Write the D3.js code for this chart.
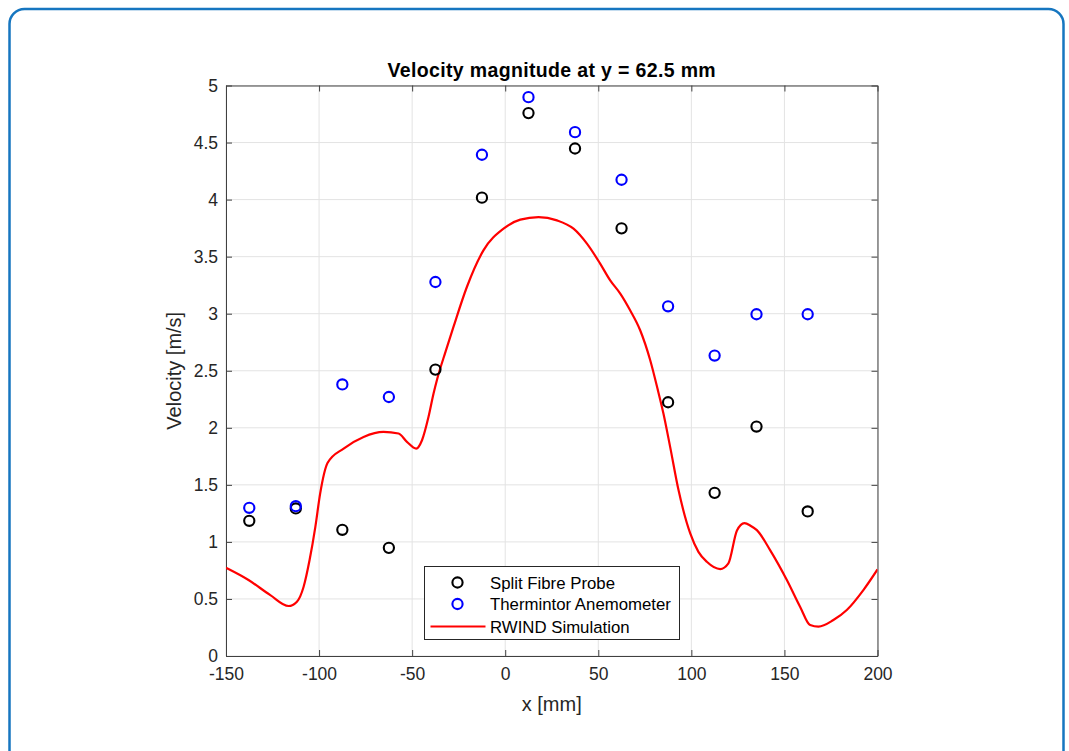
<!DOCTYPE html>
<html>
<head>
<meta charset="utf-8">
<script src="https://cdn.jsdelivr.net/npm/d3@7"></script>
<style>
  body { margin: 0; background: #fff; }
  svg { display: block; font-family: 'Liberation Sans', Arial, sans-serif; }
</style>
</head>
<body>
<div id="viz-container"></div>
<script>
// measurement positions (mm)
let probeX = [-137.5, -112.5, -87.5, -62.5, -37.5, -12.5, 12.5, 37.5, 62.5, 87.5, 112.5, 135, 162.5];
let splitFibre = [1.185, 1.293, 1.106, 0.948, 2.51, 4.017, 4.758, 4.448, 3.748, 2.224, 1.43, 2.011, 1.267];
let thermintor = [1.299, 1.313, 2.38, 2.27, 3.278, 4.393, 4.898, 4.591, 4.174, 3.065, 2.633, 2.995, 2.995];

// simulation curve
let simX = [-150, -137.9, -126.2, -116.4, -111.9, -108.3, -105.1, -102, -99.4, -95.4, -86.8, -76.1, -65.4, -57.3, -52.8, -47.8, -44.7, -41.2, -38.5, -36.5, -32, -27.8, -20.6, -11.7, -0.9, 8.1, 17.9, 27.8, 36.7, 43.9, 51, 56.4, 61.8, 67.1, 72.5, 77.9, 81.8, 85, 88.6, 93.1, 99.4, 103.8, 108.3, 115.5, 119.9, 124.5, 128.5, 132, 135.2, 142.3, 151.3, 158.4, 163.8, 168.3, 176.3, 183.5, 192.4, 200];
let simV = [0.773, 0.666, 0.534, 0.438, 0.476, 0.607, 0.841, 1.132, 1.425, 1.693, 1.818, 1.92, 1.964, 1.95, 1.877, 1.818, 1.891, 2.096, 2.3, 2.43, 2.67, 2.884, 3.234, 3.555, 3.745, 3.824, 3.847, 3.818, 3.745, 3.614, 3.439, 3.292, 3.176, 3.03, 2.855, 2.592, 2.344, 2.125, 1.833, 1.454, 1.074, 0.913, 0.826, 0.762, 0.812, 1.1, 1.165, 1.14, 1.103, 0.928, 0.666, 0.432, 0.271, 0.257, 0.315, 0.403, 0.578, 0.759];

let xTicks = [-150, -100, -50, 0, 50, 100, 150, 200];
let yTicks = [0, 0.5, 1, 1.5, 2, 2.5, 3, 3.5, 4, 4.5, 5];
let legendItems = ['Split Fibre Probe', 'Thermintor Anemometer', 'RWIND Simulation'];

let width = 1069, height = 751;
let plotLeft = 226, plotRight = 877.5, plotTop = 85.5, plotBottom = 656;
let markerR = 5.1;

let viz = d3.select('#viz-container')
  .append('svg')
  .attr('width', width)
  .attr('height', height);

// outer frame
viz.append('rect')
  .attr('x', 9.5).attr('y', 9)
  .attr('width', 1054).attr('height', 780)
  .attr('rx', 15)
  .attr('fill', 'none')
  .attr('stroke', '#1676c0')
  .attr('stroke-width', 2.5);

let xScale = d3.scaleLinear().domain([-150, 200]).range([plotLeft, plotRight]);
let yScale = d3.scaleLinear().domain([0, 5]).range([plotBottom, plotTop]);

// grid
viz.selectAll('.vgrid').data(xTicks).enter()
  .append('line')
  .attr('x1', d => xScale(d)).attr('x2', d => xScale(d))
  .attr('y1', plotTop).attr('y2', plotBottom)
  .attr('stroke', '#e3e3e3').attr('stroke-width', 1);
viz.selectAll('.hgrid').data(yTicks).enter()
  .append('line')
  .attr('y1', d => yScale(d)).attr('y2', d => yScale(d))
  .attr('x1', plotLeft).attr('x2', plotRight)
  .attr('stroke', '#e3e3e3').attr('stroke-width', 1);

// axes (MATLAB style: ticks inward, box on)
let axisColor = '#404040';
let plainFormat = d => String(d);
let xAxisB = d3.axisBottom(xScale).tickValues(xTicks).tickSizeInner(-6).tickSizeOuter(0).tickPadding(12).tickFormat(plainFormat);
let xAxisT = d3.axisTop(xScale).tickValues(xTicks).tickSizeInner(-6).tickSizeOuter(0).tickFormat('');
let yAxisL = d3.axisLeft(yScale).tickValues(yTicks).tickSizeInner(-6).tickSizeOuter(0).tickPadding(8).tickFormat(plainFormat);
let yAxisR = d3.axisRight(yScale).tickValues(yTicks).tickSizeInner(-6).tickSizeOuter(0).tickFormat('');

function styleAxis(g) {
  g.selectAll('path').attr('stroke', axisColor).attr('stroke-width', 1);
  g.selectAll('line').attr('stroke', axisColor).attr('stroke-width', 1);
  g.selectAll('text').attr('fill', '#262626').attr('font-size', 17.5)
    .attr('font-family', "'Liberation Sans', Arial, sans-serif");
}

viz.append('g').attr('transform', 'translate(0,' + plotBottom + ')').call(xAxisB).call(styleAxis);
viz.append('g').attr('transform', 'translate(0,' + plotTop + ')').call(xAxisT).call(styleAxis);
viz.append('g').attr('transform', 'translate(' + plotLeft + ',0)').call(yAxisL).call(styleAxis);
viz.append('g').attr('transform', 'translate(' + plotRight + ',0)').call(yAxisR).call(styleAxis);

// clip for simulation line
viz.append('clipPath').attr('id', 'plotClip')
  .append('rect').attr('x', plotLeft).attr('y', plotTop)
  .attr('width', plotRight - plotLeft).attr('height', plotBottom - plotTop);

let simData = simX.map((x, i) => ({x: x, v: simV[i]}));
let line = d3.line()
  .x(d => xScale(d.x))
  .y(d => yScale(d.v))
  .curve(d3.curveMonotoneX);

viz.append('path')
  .datum(simData)
  .attr('d', line)
  .attr('fill', 'none')
  .attr('stroke', '#ff0000')
  .attr('stroke-width', 2.2)
  .attr('clip-path', 'url(#plotClip)');

// markers
viz.selectAll('.split').data(splitFibre).enter()
  .append('circle')
  .attr('cx', (d, i) => xScale(probeX[i]))
  .attr('cy', d => yScale(d))
  .attr('r', markerR)
  .attr('fill', 'none')
  .attr('stroke', '#000')
  .attr('stroke-width', 2.1);

viz.selectAll('.therm').data(thermintor).enter()
  .append('circle')
  .attr('cx', (d, i) => xScale(probeX[i]))
  .attr('cy', d => yScale(d))
  .attr('r', markerR)
  .attr('fill', 'none')
  .attr('stroke', '#0000ff')
  .attr('stroke-width', 2.1);

// title and labels
viz.append('text')
  .text('Velocity magnitude at y = 62.5 mm')
  .attr('x', (plotLeft + plotRight) / 2).attr('y', 77)
  .attr('text-anchor', 'middle')
  .attr('font-size', 19.5).attr('font-weight', 'bold')
  .attr('letter-spacing', 0.35)
  .attr('fill', '#000');

viz.append('text')
  .text('x [mm]')
  .attr('x', (plotLeft + plotRight) / 2).attr('y', 711)
  .attr('text-anchor', 'middle')
  .attr('font-size', 20).attr('fill', '#262626');

viz.append('text')
  .text('Velocity [m/s]')
  .attr('transform', 'translate(181,' + ((plotTop + plotBottom) / 2) + ') rotate(-90)')
  .attr('text-anchor', 'middle')
  .attr('font-size', 20).attr('fill', '#262626');

// legend
let legend = viz.append('g');
legend.append('rect')
  .attr('x', 424.5).attr('y', 566.5)
  .attr('width', 255).attr('height', 73)
  .attr('fill', '#fff').attr('stroke', '#262626').attr('stroke-width', 1);

let legendY = [582.5, 604, 626.5];
let legendColors = ['#000', '#0000ff', '#ff0000'];
legendItems.forEach(function(name, i) {
  if (i < 2) {
    legend.append('circle')
      .attr('cx', 457.5).attr('cy', legendY[i]).attr('r', markerR)
      .attr('fill', 'none').attr('stroke', legendColors[i]).attr('stroke-width', 2.1);
  } else {
    legend.append('line')
      .attr('x1', 430.5).attr('x2', 485.5)
      .attr('y1', legendY[i]).attr('y2', legendY[i])
      .attr('stroke', legendColors[i]).attr('stroke-width', 2.2);
  }
  legend.append('text')
    .text(name)
    .attr('x', 490).attr('y', legendY[i] + 6)
    .attr('font-size', 16.8).attr('fill', '#000');
});
</script>
</body>
</html>
